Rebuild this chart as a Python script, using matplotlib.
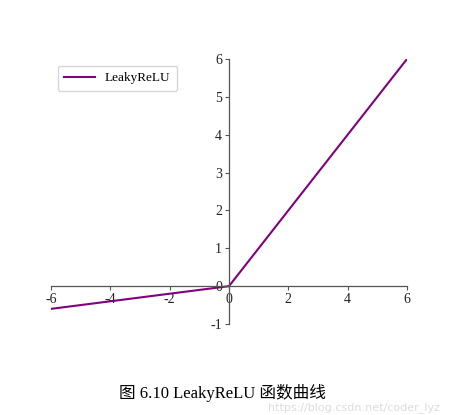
import numpy as np
import matplotlib
matplotlib.use("Agg")
import matplotlib.pyplot as plt

# data
x_vals = np.array([-6, 0, 6])
alpha = 0.1
y_vals = np.where(x_vals > 0, x_vals, alpha * x_vals)
x_ticks = [-6, -4, -2, 0, 2, 4, 6]
y_ticks = [-1, 0, 1, 2, 3, 4, 5, 6]
series_label = "LeakyReLU"
caption = "图 6.10 LeakyReLU 函数曲线"

plt.rcParams['font.family'] = ['Liberation Serif', 'Noto Sans CJK SC', 'DejaVu Sans']

fig = plt.figure(figsize=(4.62, 4.15), dpi=100)
ax = fig.add_axes([51/462, 1-324/415, (407-51)/462, (324-59)/415])
ax.plot(x_vals, y_vals, color='#800080', lw=1.5, label=series_label)
ax.set_xlim(-6, 6)
ax.set_ylim(-1, 6)
ax.spines['right'].set_visible(False)
ax.spines['top'].set_visible(False)
ax.spines['left'].set_position(('data', 0))
ax.spines['bottom'].set_position(('data', 0))
for s in ['left', 'bottom']:
    ax.spines[s].set_color('#555555')
    ax.spines[s].set_linewidth(0.9)
ax.set_xticks(x_ticks)
ax.set_yticks(y_ticks)
ax.set_xticklabels([str(t) for t in x_ticks])
ax.set_yticklabels([str(t) for t in y_ticks])
ax.tick_params(labelsize=10, length=3, width=0.8, color='#555555', pad=2, labelcolor='#222222')
ax.legend(loc='upper left', bbox_to_anchor=(0.0, 1.0), fontsize=9.5, frameon=True,
          fancybox=True, edgecolor='#cccccc', handlelength=2.3, borderpad=0.5)

fig.text(222/462, 1-393/415, caption, ha='center', va='center', fontsize=12,
         family=['Liberation Serif', 'Noto Sans CJK SC'])
fig.text(440/462, 1-408/415, "https://blog.csdn.net/coder_lyz", ha='right', va='center',
         fontsize=8, color='#dddddd', family='DejaVu Sans', zorder=-1)

fig.savefig("out.png", dpi=100)
